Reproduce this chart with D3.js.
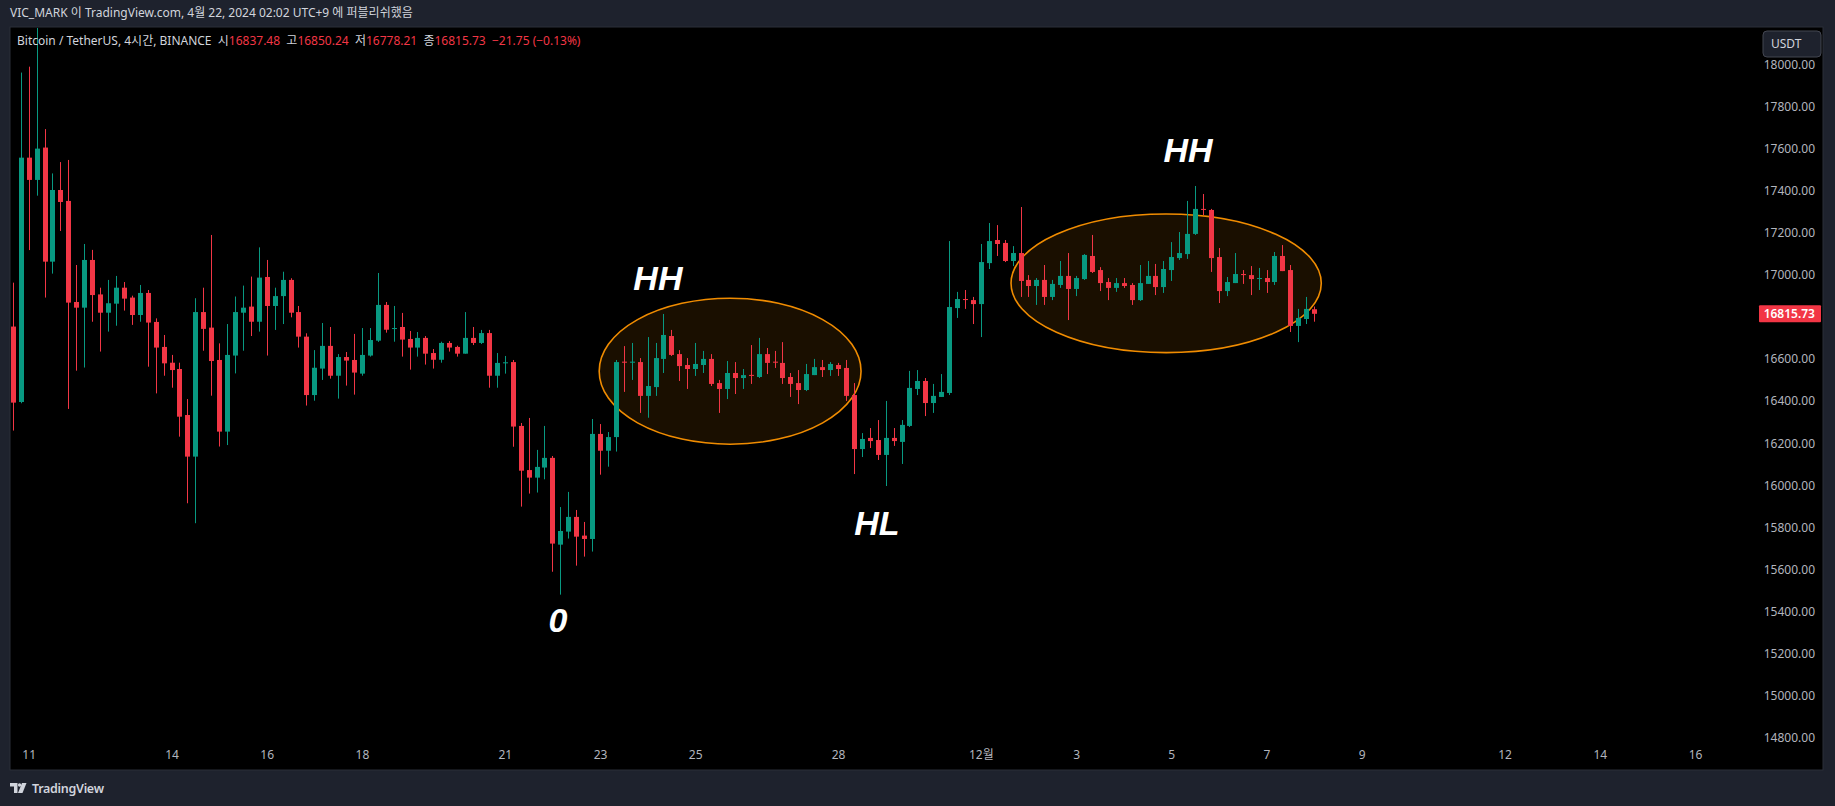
<!DOCTYPE html>
<html><head><meta charset="utf-8">
<script src="https://cdn.jsdelivr.net/npm/d3@7"></script>
<style>html,body{margin:0;padding:0;background:#1e222d;overflow:hidden}</style>
</head><body><svg id="c" width="1835" height="806"></svg>
<script>
// ---- DATA ----
const startTime = "2022-11-10T17:00:00+09:00"; // first visible 4h candle (UTC+9)
const opens  = [16755,16396,17559,17453,17607,17064,17405,17353,16872,16845,17072,16908,16821,16864,16940,16893,16810,16915,16777,16658,16583,16553,16334,16136,16824,16750,16596,16255,16617,16821,16850,16778,16991,16853,16900,16977,16824,16707,16429,16555,16663,16521,16610,16596,16531,16617,16688,16858,16745,16753,16696,16655,16701,16629,16597,16677,16658,16626,16701,16677,16724,16521,16580,16586,16282,16072,16036,16084,16130,15717,15779,15849,15760,15744,16244,16164,16229,16588,16583,16586,16425,16467,16601,16710,16624,16572,16553,16572,16601,16486,16458,16534,16510,16525,16515,16624,16588,16582,16515,16486,16453,16524,16562,16548,16572,16558,16429,16172,16225,16215,16144,16225,16206,16282,16458,16496,16391,16420,16439,16843,16886,16881,16862,17057,17167,17153,17067,17105,16977,16948,16977,16896,16953,16996,16934,16981,17091,17024,16967,16939,16962,16953,16881,16958,16996,16943,17024,17081,17100,17196,17315,17310,17086,16924,16962,17005,17000,16984,16986,16967,17091,17024,16758,16791,16837.48];
const highs  = [16964,17964,17992,18250,17695,17484,17538,17548,17048,17148,17120,16940,16977,16996,16967,16902,16953,16929,16794,16715,16620,16583,16410,16890,16940,17191,16675,16767,16898,16950,16993,17132,17072,16940,17016,16985,16853,16723,16643,16772,16753,16624,16634,16720,16748,16748,17010,16872,16853,16820,16734,16729,16710,16648,16683,16686,16664,16824,16753,16739,16739,16629,16615,16596,16296,16320,16168,16282,16139,15896,15968,15882,15825,16315,16291,16253,16596,16662,16677,16605,16705,16677,16815,16739,16643,16605,16677,16639,16624,16501,16591,16586,16553,16667,16701,16653,16639,16681,16534,16548,16577,16601,16596,16586,16582,16596,16486,16248,16272,16310,16401,16272,16310,16544,16548,16510,16482,16529,17162,16920,16929,16896,17148,17248,17238,17167,17138,17324,17000,16986,17048,16977,17067,17105,16996,17100,17191,17038,16986,16986,16986,16962,17048,17067,17053,17067,17157,17205,17353,17424,17386,17315,17129,16991,17105,17024,17043,17034,17024,17110,17143,17048,16839,16896,16850.24];
const lows   = [16260,16390,17119,17378,16893,17007,17210,16363,16545,16560,16778,16636,16731,16759,16831,16763,16778,16564,16437,16521,16464,16231,15914,15819,16640,16426,16184,16191,16532,16640,16710,16731,16617,16739,16767,16799,16655,16379,16402,16501,16507,16412,16474,16431,16521,16612,16682,16726,16683,16612,16550,16612,16574,16555,16583,16636,16612,16626,16667,16672,16464,16464,16531,16183,15898,15960,15965,16028,15588,15479,15746,15617,15660,15684,16050,16088,16160,16444,16501,16344,16321,16425,16534,16615,16496,16458,16520,16534,16472,16344,16410,16434,16458,16482,16510,16529,16558,16482,16420,16386,16448,16524,16515,16520,16520,16401,16053,16134,16177,16120,15996,16187,16101,16277,16429,16329,16344,16420,16429,16796,16839,16767,16705,17029,17091,17062,17043,16896,16896,16858,16858,16881,16939,16786,16900,16977,17010,16924,16881,16920,16939,16858,16877,16958,16905,16915,16972,17072,17077,17191,17286,17015,16867,16900,16962,16958,16905,16929,16915,16953,17019,16729,16681,16767,16778.21];
const closes = [16393,17559,17453,17602,17064,17405,17348,16869,16845,17072,16905,16821,16866,16940,16888,16810,16915,16774,16655,16580,16548,16326,16136,16824,16744,16591,16255,16620,16824,16845,16778,16988,16853,16900,16977,16821,16707,16429,16559,16663,16521,16610,16593,16536,16620,16691,16858,16740,16748,16693,16655,16701,16626,16597,16677,16655,16626,16701,16677,16724,16521,16582,16585,16279,16069,16036,16087,16130,15722,15782,15849,15755,15744,16244,16164,16229,16586,16583,16588,16425,16472,16605,16715,16620,16567,16553,16577,16601,16482,16458,16534,16510,16524,16521,16624,16582,16583,16510,16482,16453,16529,16562,16548,16577,16553,16425,16172,16220,16210,16144,16225,16210,16287,16463,16496,16391,16425,16444,16848,16886,16883,16862,17062,17162,17148,17067,17105,16972,16948,16977,16896,16958,16996,16934,16986,17096,17015,16962,16939,16962,16948,16881,16962,16996,16943,17029,17086,17105,17196,17315,17311,17081,16924,16967,17005,17000,16981,16986,16967,17091,17019,16758,16796,16839,16815.73];

const priceTicks = [14800,15000,15200,15400,15600,15800,16000,16200,16400,16600,17000,17200,17400,17600,17800,18000];
const dayTicks = ["2022-11-11","2022-11-14","2022-11-16","2022-11-18","2022-11-21","2022-11-23","2022-11-25","2022-11-28","2022-12-01","2022-12-03","2022-12-05","2022-12-07","2022-12-09","2022-12-12","2022-12-14","2022-12-16"];
const dayTickLabels = ["11","14","16","18","21","23","25","28","12월","3","5","7","9","12","14","16"];

// annotation ellipses: [startIndex, endIndex, topPrice, bottomPrice]
const zones = [[73.9,106.9,16890,16195],[125.8,164.9,17291,16631]];
// annotation labels: [text, index (x), price (y)]
const notes = [["HH",81.3,16989],["HL",108.9,15822],["0",68.7,15358],["HH",148.1,17595]];

const lastPrice = 16815.73;
const titleText = "VIC_MARK 이 TradingView.com, 4월 22, 2024 02:02 UTC+9 에 퍼블리쉬했음";

// ---- CHART ----
const svg = d3.select("#c");
const GREEN="#089981", RED="#f23645";
const FONT = "'Noto Sans','Noto Sans CJK KR',sans-serif";
const pane = {x:10,y:27,w:1813,h:743};

svg.append("rect").attr("width",1835).attr("height",806).attr("fill","#1e222d");
svg.append("rect").attr("x",pane.x).attr("y",pane.y).attr("width",pane.w).attr("height",pane.h)
  .attr("fill","#000").attr("stroke","#2a2e39").attr("stroke-width",1);

const t0 = new Date(startTime).getTime();
const H4 = 4*3600*1000;
const data = opens.map((o,i)=>({t:new Date(t0+i*H4),o,h:highs[i],l:lows[i],c:closes[i]}));
const step = 7.935, x0 = 12.8;
const x = d3.scaleTime().domain([data[0].t, data[data.length-1].t]).range([x0, x0+step*(data.length-1)]);
const xi = i => x(new Date(t0+i*H4));
const y = d3.scaleLinear().domain([14800,18000]).range([737.3,65]);

svg.append("clipPath").attr("id","pc").append("rect").attr("x",pane.x+1).attr("y",pane.y+1).attr("width",1740).attr("height",720);
const plot = svg.append("g").attr("clip-path","url(#pc)");

// zones
plot.selectAll("ellipse.z").data(zones).join("ellipse")
  .attr("cx",d=>(xi(d[0])+xi(d[1]))/2).attr("cy",d=>(y(d[2])+y(d[3]))/2)
  .attr("rx",d=>(xi(d[1])-xi(d[0]))/2).attr("ry",d=>(y(d[3])-y(d[2]))/2)
  .attr("fill","rgba(255,152,0,0.1)").attr("stroke","#f08c00").attr("stroke-width",1.6);

// candles
const bw = 5;
const cg = plot.selectAll("g.k").data(data).join("g");
cg.append("line").attr("x1",d=>Math.round(x(d.t))+0.5).attr("x2",d=>Math.round(x(d.t))+0.5)
  .attr("y1",d=>y(d.h)).attr("y2",d=>y(d.l)).attr("stroke",d=>d.c>=d.o?GREEN:RED).attr("stroke-width",1);
cg.append("rect").attr("x",d=>Math.round(x(d.t))+0.5-bw/2)
  .attr("y",d=>y(Math.max(d.o,d.c))).attr("width",bw)
  .attr("height",d=>Math.max(1,Math.abs(y(d.o)-y(d.c))))
  .attr("fill",d=>d.c>=d.o?GREEN:RED);

// annotation labels
svg.selectAll("text.note").data(notes).join("text")
  .attr("x",d=>xi(d[1])).attr("y",d=>y(d[2])).attr("text-anchor","middle").attr("dy","0.36em")
  .attr("fill","#fff").attr("font-family","'Liberation Sans',Arial,sans-serif").attr("font-weight","bold")
  .attr("font-style","italic").attr("font-size",34).text(d=>d[0]);

// y axis
const ya = svg.append("g").attr("transform","translate(1815,0)")
  .call(d3.axisRight(y).tickValues(priceTicks).tickSize(0).tickPadding(0).tickFormat(d3.format(".2f")));
ya.select(".domain").remove();
ya.selectAll("text").attr("text-anchor","end").attr("fill","#b2b5be").attr("font-size",12).attr("font-family",FONT);

// x axis
const xa = svg.append("g").attr("transform","translate(0,750)")
  .call(d3.axisBottom(x).tickValues(dayTicks.map(s=>new Date(s+"T01:00:00+09:00"))).tickSize(0).tickPadding(0)
  .tickFormat((d,i)=>dayTickLabels[i]));
xa.select(".domain").remove();
xa.selectAll("text").attr("fill","#b2b5be").attr("font-size",12).attr("font-family",FONT);

// last price label
const ly = y(lastPrice);
svg.append("rect").attr("x",1759).attr("y",ly-8.5).attr("width",62).attr("height",17).attr("fill",RED).attr("rx",1);
svg.append("text").attr("x",1815).attr("y",ly).attr("dy","0.36em").attr("text-anchor","end")
  .attr("fill","#fff").attr("font-size",12).attr("font-weight",600).attr("font-family",FONT).text(lastPrice.toFixed(2));

// USDT button
svg.append("rect").attr("x",1763).attr("y",31).attr("width",58).attr("height",26).attr("rx",4)
  .attr("fill","#1e222d").attr("stroke","#434651");
svg.append("text").attr("x",1771).attr("y",44).attr("dy","0.36em").attr("fill","#d1d4dc")
  .attr("font-size",12).attr("font-family",FONT).text("USDT");

// header
svg.append("text").attr("x",10).attr("y",13).attr("dy","0.36em").attr("fill","#d1d4dc")
  .attr("font-size",12).attr("font-family",FONT).text(titleText);
const lg = svg.append("text").attr("x",17).attr("y",41).attr("dy","0.36em").attr("font-size",12).attr("font-family",FONT)
  .attr("xml:space","preserve").style("white-space","pre");
const last = data[data.length-1];
lg.append("tspan").attr("fill","#d1d4dc").text("Bitcoin / TetherUS, 4시간, BINANCE  시");
lg.append("tspan").attr("fill",RED).text(last.o.toFixed(2));
lg.append("tspan").attr("fill","#d1d4dc").text("  고");
lg.append("tspan").attr("fill",RED).text(last.h.toFixed(2));
lg.append("tspan").attr("fill","#d1d4dc").text("  저");
lg.append("tspan").attr("fill",RED).text(last.l.toFixed(2));
lg.append("tspan").attr("fill","#d1d4dc").text("  종");
lg.append("tspan").attr("fill",RED).text(last.c.toFixed(2));
lg.append("tspan").attr("fill",RED).text("  −21.75 (−0.13%)");

// footer logo
const fg = svg.append("g").attr("fill","#d1d4dc");
fg.append("path").attr("d","M10,783 H17.5 V793 H14 V786.5 H10 Z");
fg.append("circle").attr("cx",19.6).attr("cy",785).attr("r",1.7);
fg.append("path").attr("d","M22,783 H26.5 L22.5,793 H18 Z");
svg.append("text").attr("x",32).attr("y",788).attr("dy","0.36em").attr("fill","#d1d4dc")
  .attr("font-size",12.5).attr("font-weight",600).attr("font-family",FONT).attr("letter-spacing","-0.3").text("TradingView");
</script></body></html>
